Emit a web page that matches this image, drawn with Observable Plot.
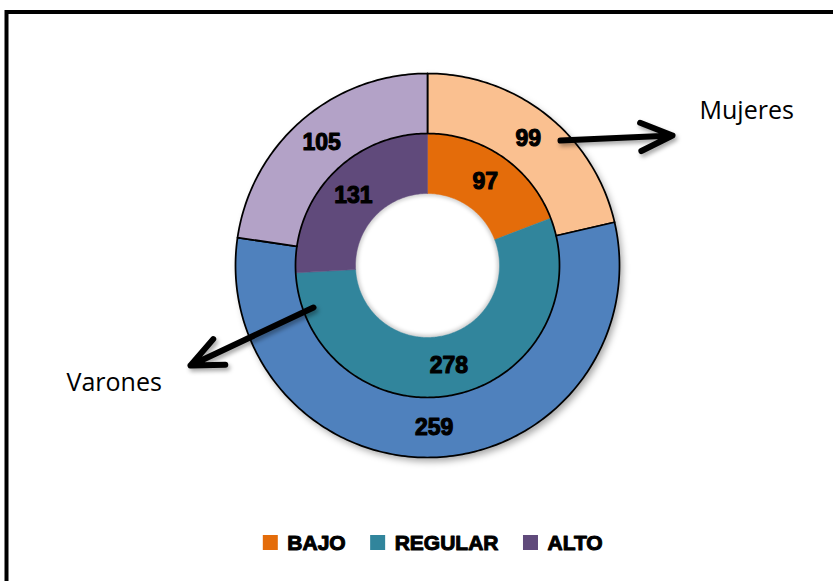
<!DOCTYPE html>
<html><head><meta charset="utf-8">
<script src="https://cdn.jsdelivr.net/npm/d3@7"></script>
<script src="https://cdn.jsdelivr.net/npm/@observablehq/plot@0.6"></script>
<style>body{margin:0;background:#fff} svg{display:block}</style>
</head><body><div id="chart"></div>
<script>
// ---- data ----
const categories = ["BAJO", "REGULAR", "ALTO"];
const mujeres = [99, 259, 105];   // outer ring
const varones = [97, 278, 131];   // inner ring
const ringLabels = ["Mujeres", "Varones"];
const outerColors = ["#FAC090", "#4F81BD", "#B3A2C7"];
const innerColors = ["#E46C0A", "#31859C", "#604A7B"];

// ---- layout ----
const W = 833, H = 581, cx = 427, cy = 265;
const rings = [
  {name: ringLabels[0], values: mujeres, colors: outerColors, r0: 132, r1: 192, stroke: true},
  {name: ringLabels[1], values: varones, colors: innerColors, r0: 72, r1: 132, stroke: false}
];

// slices as polygons in polar -> cartesian data units (y up)
const slicePts = [], sliceLabels = [];
for (const ring of rings) {
  const arcs = d3.pie().sort(null).value(d => d)(ring.values);
  arcs.forEach((a, i) => {
    const key = ring.name + "-" + categories[i];
    const n = Math.max(8, Math.ceil((a.endAngle - a.startAngle) * 60));
    const pts = [];
    for (let k = 0; k <= n; k++) {
      const t = a.startAngle + (a.endAngle - a.startAngle) * k / n;
      pts.push({x: ring.r1 * Math.sin(t), y: ring.r1 * Math.cos(t)});
    }
    for (let k = n; k >= 0; k--) {
      const t = a.startAngle + (a.endAngle - a.startAngle) * k / n;
      pts.push({x: ring.r0 * Math.sin(t), y: ring.r0 * Math.cos(t)});
    }
    pts.push(pts[0]);
    for (const p of pts) slicePts.push({...p, key, color: ring.colors[i], stroke: ring.stroke});
    const mid = (a.startAngle + a.endAngle) / 2, rm = (ring.r0 + ring.r1) / 2;
    sliceLabels.push({x: rm * Math.sin(mid), y: rm * Math.cos(mid), text: String(ring.values[i])});
  });
}

// annotation arrows (data units, y up, origin at donut centre)
const annotArrows = [
  {x1: 133, y1: 125, x2: 245, y2: 130},
  {x1: -114, y1: -42, x2: -237, y2: -100}
];
const annotTexts = [
  {x: 272, y: 155, text: ringLabels[0]},
  {x: -361, y: -117, text: ringLabels[1]}
];

// legend layout from measured text widths
const legendFont = "bold 21px 'Liberation Sans'";
const ctx = document.createElement("canvas").getContext("2d");
ctx.font = legendFont;
const sq = 15, gap1 = 9, gap2 = 25;
const widths = categories.map(c => ctx.measureText(c).width);
const total = d3.sum(widths) + categories.length * (sq + gap1) + (categories.length - 1) * gap2;
let lx = 432.5 - cx - total / 2;
const legendY = cy - 542.5;
const legendItems = categories.map((c, i) => {
  const item = {label: c, color: innerColors[i], sx: lx, tx: lx + sq + gap1};
  lx += sq + gap1 + widths[i] + gap2;
  return item;
});

const svg = Plot.plot({
  width: W, height: H,
  marginTop: 0, marginRight: 0, marginBottom: 0, marginLeft: 0,
  x: {domain: [-cx, W - cx], range: [0, W], axis: null},
  y: {domain: [cy, cy - H], range: [0, H], axis: null},
  style: {background: "#fff"},
  marks: [
    // border
    Plot.rect([{}], {x1: 6.5 - cx, x2: W - cx + 30, y1: cy - 12, y2: cy - H - 30, fill: "none", stroke: "#000", strokeWidth: 4}),
    // shadows
    Plot.dot([{x: 3, y: -4}], {x: "x", y: "y", r: 162, fill: "none", stroke: "#000", strokeOpacity: 0.35, strokeWidth: 60, ariaDescription: "shadow"}),
    Plot.dot([{x: 0, y: 0}], {x: "x", y: "y", r: 72, fill: "none", stroke: "#000", strokeOpacity: 0.3, strokeWidth: 3, ariaDescription: "shadow2"}),
    // slices
    Plot.line(slicePts.filter(d => !d.stroke), {x: "x", y: "y", z: "key", fill: "color", stroke: "color", strokeWidth: 0.5, curve: "linear"}),
    Plot.line(slicePts.filter(d => d.stroke), {x: "x", y: "y", z: "key", fill: "color", stroke: "#000", strokeWidth: 1.75, curve: "linear", strokeLinejoin: "round"}),
    // value labels
    Plot.text(sliceLabels, {x: "x", y: "y", text: "text", fontSize: 23, fontWeight: "bold", fontFamily: "'Liberation Sans', Arial, sans-serif", fill: "#000", stroke: "#000", strokeWidth: 1.1}),
    // arrows
    Plot.arrow(annotArrows, {x1: d => d.x1 + 2, y1: d => d.y1 - 3, x2: d => d.x2 + 2, y2: d => d.y2 - 3, stroke: "#000", strokeOpacity: 0.35, strokeWidth: 6, headLength: 8.7, headAngle: 48, strokeLinecap: "round", strokeLinejoin: "round", ariaDescription: "shadow3"}),
    Plot.arrow(annotArrows, {x1: "x1", y1: "y1", x2: "x2", y2: "y2", stroke: "#000", strokeWidth: 6, headLength: 8.7, headAngle: 48, strokeLinecap: "round", strokeLinejoin: "round"}),
    Plot.text(annotTexts, {x: "x", y: "y", text: "text", textAnchor: "start", fontSize: 25, fontFamily: "'Open Sans', sans-serif", fill: "#000", ariaDescription: "annot"}),
    // legend
    Plot.rect(legendItems, {x1: "sx", x2: d => d.sx + sq, y1: legendY + sq / 2, y2: legendY - sq / 2, fill: "color"}),
    Plot.text(legendItems, {x: "tx", y: legendY, text: "label", textAnchor: "start", fontSize: 21, fontWeight: "bold", fontFamily: "'Liberation Sans', Arial, sans-serif", fill: "#000", stroke: "#000", strokeWidth: 1})
  ]
});

const s = d3.select(svg);
const defs = s.insert("defs", ":first-child");
defs.append("filter").attr("id", "blurA").attr("x", "-20%").attr("y", "-20%").attr("width", "140%").attr("height", "140%")
  .append("feGaussianBlur").attr("stdDeviation", 3.5);
defs.append("filter").attr("id", "blurB").attr("x", "-20%").attr("y", "-20%").attr("width", "140%").attr("height", "140%")
  .append("feGaussianBlur").attr("stdDeviation", 2);
s.selectAll('g[aria-description="shadow"]').attr("filter", "url(#blurA)");
s.selectAll('g[aria-description="shadow2"]').attr("filter", "url(#blurB)");
s.selectAll('g[aria-description="shadow3"]').attr("filter", "url(#blurB)");
document.getElementById("chart").append(svg);
</script>
</body></html>
